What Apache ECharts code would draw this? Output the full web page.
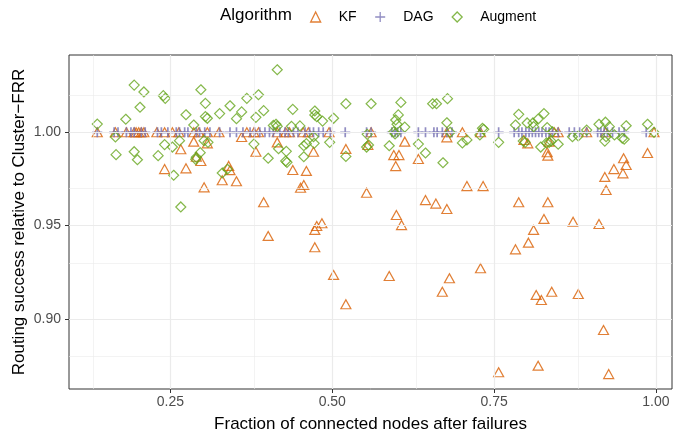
<!DOCTYPE html>
<html>
<head>
<meta charset="utf-8">
<title>Routing success relative to Cluster-FRR</title>
<script src="https://cdn.jsdelivr.net/npm/echarts@6/dist/echarts.min.js"></script>
<style>
  html, body { margin: 0; padding: 0; background: #ffffff; }
  #chart { width: 689px; height: 432px; }
</style>
</head>
<body>
<div id="chart"></div>
<script>
// fraction of connected nodes, routing success ratio
var kfPoints = [
  [0.137, 1.0], [0.165, 1.0], [0.182, 1.0], [0.194, 1.0], [0.197, 1.0], [0.201, 1.0],
  [0.205, 1.0], [0.209, 1.0], [0.229, 1.0], [0.241, 1.0], [0.253, 1.0], [0.263, 1.0],
  [0.286, 1.0], [0.294, 1.0], [0.307, 1.0], [0.325, 1.0], [0.368, 1.0], [0.379, 1.0],
  [0.386, 1.0], [0.415, 1.0], [0.428, 1.0], [0.434, 1.0], [0.455, 1.0], [0.463, 1.0],
  [0.495, 1.0], [0.560, 1.0], [0.677, 1.0], [0.701, 1.0], [0.729, 1.0], [0.843, 1.0],
  [0.849, 1.0], [0.893, 1.0], [0.922, 1.0], [0.997, 1.0],
  [0.266, 0.9909], [0.241, 0.9803], [0.274, 0.9807], [0.286, 0.995], [0.307, 0.9941],
  [0.290, 0.9869], [0.297, 0.9846], [0.340, 0.9820], [0.342, 0.9797], [0.330, 0.9743],
  [0.352, 0.9738], [0.302, 0.9705], [0.360, 0.9975], [0.382, 0.9896], [0.415, 0.9946],
  [0.439, 0.9798], [0.460, 0.9793], [0.451, 0.9703], [0.456, 0.9718], [0.394, 0.9625],
  [0.471, 0.9896], [0.521, 0.9911], [0.555, 0.9932], [0.595, 0.9878], [0.603, 0.9878],
  [0.598, 0.9819], [0.612, 0.995], [0.633, 0.9857], [0.553, 0.9676], [0.644, 0.9637],
  [0.677, 0.9973], [0.708, 0.9712], [0.733, 0.9712], [0.796, 0.9959], [0.802, 0.9941],
  [0.832, 0.9893], [0.833, 0.9875], [0.788, 0.9625], [0.833, 0.9625], [0.660, 0.9618],
  [0.835, 0.995], [0.987, 0.9889], [0.950, 0.9861], [0.954, 0.9825], [0.949, 0.978],
  [0.935, 0.9803], [0.921, 0.9761], [0.923, 0.9691], [0.401, 0.9445], [0.484, 0.9513],
  [0.476, 0.9498], [0.473, 0.9477], [0.473, 0.9384], [0.502, 0.9236], [0.677, 0.9589],
  [0.599, 0.9557], [0.607, 0.9503], [0.827, 0.9536], [0.872, 0.9521], [0.912, 0.9509],
  [0.811, 0.9477], [0.803, 0.9409], [0.783, 0.9373], [0.729, 0.9272], [0.588, 0.923],
  [0.681, 0.9218], [0.670, 0.9146], [0.521, 0.9079], [0.815, 0.9129], [0.823, 0.9102],
  [0.839, 0.9146], [0.880, 0.9134], [0.919, 0.8941], [0.757, 0.8715], [0.818, 0.875],
  [0.927, 0.8705]
]

// DAG always matches Cluster-FRR
var dagFractions = [
  0.137, 0.163, 0.169, 0.182, 0.189, 0.194, 0.205, 0.211, 0.230, 0.236, 0.246, 0.259,
  0.264, 0.272, 0.277, 0.290, 0.295, 0.303, 0.311, 0.326, 0.342, 0.352, 0.362, 0.373,
  0.380, 0.388, 0.396, 0.403, 0.409, 0.419, 0.427, 0.432, 0.440, 0.447, 0.458, 0.465,
  0.471, 0.479, 0.486, 0.497, 0.520, 0.553, 0.560, 0.592, 0.597, 0.601, 0.606, 0.633,
  0.644, 0.657, 0.662, 0.670, 0.677, 0.685, 0.729, 0.757, 0.781, 0.788, 0.793, 0.799,
  0.804, 0.809, 0.814, 0.819, 0.824, 0.830, 0.835, 0.840, 0.849, 0.866, 0.874, 0.882,
  0.893, 0.910, 0.915, 0.920, 0.925, 0.933, 0.943, 0.951, 0.985
]
var dagSuccess = 1.0

var augmentPoints = [
  [0.137, 1.0044], [0.194, 1.0253], [0.209, 1.0216], [0.203, 1.0134], [0.181, 1.007],
  [0.165, 0.9975], [0.166, 0.988], [0.194, 0.9896], [0.199, 0.9853], [0.239, 1.0196],
  [0.242, 1.0182], [0.274, 1.0094], [0.241, 0.9934], [0.253, 0.9921], [0.264, 0.9955],
  [0.231, 0.9875], [0.255, 0.977], [0.266, 0.960],
  [0.415, 1.0335], [0.297, 1.0228], [0.304, 1.0155], [0.304, 1.0084], [0.307, 1.0075],
  [0.326, 1.01], [0.342, 1.0142], [0.368, 1.0182], [0.386, 1.0201], [0.360, 1.0109],
  [0.352, 1.0073], [0.394, 1.0116], [0.382, 1.008], [0.286, 1.0039], [0.439, 1.0123],
  [0.409, 1.0037], [0.413, 1.0043], [0.415, 1.0032], [0.437, 1.0032], [0.450, 1.0034],
  [0.302, 0.9955], [0.308, 0.9946], [0.296, 0.9891], [0.290, 0.9866], [0.289, 0.9855],
  [0.330, 0.9782], [0.338, 0.9802], [0.379, 0.9937], [0.401, 0.9861], [0.417, 0.9912],
  [0.429, 0.9898], [0.428, 0.9846], [0.430, 0.9839], [0.456, 0.9928], [0.460, 0.9939],
  [0.456, 0.9869],
  [0.473, 1.0114], [0.476, 1.0084], [0.473, 1.0093], [0.485, 1.006], [0.502, 1.0075],
  [0.521, 1.0153], [0.560, 1.0153], [0.606, 1.016], [0.602, 1.0093], [0.598, 1.0066],
  [0.600, 1.0043], [0.612, 1.0028], [0.595, 1.0003], [0.597, 0.9991], [0.655, 1.0153],
  [0.471, 0.9976], [0.472, 0.9941], [0.496, 0.9946], [0.521, 0.9871], [0.554, 0.9989],
  [0.556, 0.9932], [0.553, 0.9921], [0.588, 0.9928], [0.633, 0.9937], [0.644, 0.9889],
  [0.661, 1.0153], [0.678, 1.018], [0.677, 1.0051], [0.682, 1.0], [0.701, 0.9943],
  [0.708, 0.9959], [0.671, 0.9837], [0.728, 0.9986], [0.732, 1.0021], [0.734, 1.0016],
  [0.757, 0.9946], [0.788, 1.0096], [0.783, 1.0039], [0.801, 1.005], [0.810, 1.005],
  [0.811, 1.003], [0.818, 1.0071], [0.827, 1.01], [0.832, 1.0025], [0.840, 1.0003],
  [0.795, 0.9953], [0.798, 0.9946], [0.822, 0.9921], [0.831, 0.9943], [0.835, 0.9946],
  [0.838, 0.9953],
  [0.849, 0.9936], [0.871, 0.9976], [0.880, 0.998], [0.893, 1.0012], [0.912, 1.0043],
  [0.922, 1.0054], [0.928, 1.003], [0.921, 0.9953], [0.923, 0.9976], [0.936, 0.9986],
  [0.948, 0.9968], [0.951, 0.9963], [0.954, 1.0035], [0.987, 1.0043], [0.997, 1.0]
]

// axis breaks (ggplot style major / minor)
var xMajor = [0.25, 0.50, 0.75, 1.00]
var xMinor = [0.125, 0.375, 0.625, 0.875]
var yMajor = [0.90, 0.95, 1.00]
var yMinor = [0.875, 0.925, 0.975, 1.025]

var FONT = '"Liberation Sans", Arial, Helvetica, sans-serif'
var colors = { kf: '#D95F02', dag: '#7570B3', augment: '#66A61E' }

var chart = echarts.init(document.getElementById('chart'), null, { renderer: 'canvas' })

function gridLines(values, axis, width) {
  return values.map(function(v) {
    var d = {}
    d[axis] = v
    d.lineStyle = { width: width }
    return d
  })
}

chart.setOption({
  animation: false,
  backgroundColor: '#ffffff',
  textStyle: { fontFamily: FONT },
  title: {
    text: 'Algorithm',
    left: 220,
    top: 7,
    padding: 0,
    textStyle: { fontFamily: FONT, fontSize: 17, fontWeight: 'normal', color: '#000000' }
  },
  legend: {
    data: ['KF', 'DAG', 'Augment'],
    left: 310,
    top: 10,
    padding: 0,
    itemWidth: 10,
    itemHeight: 10,
    itemGap: 18,
    selectedMode: false,
    // spacer so the label sits where ggplot puts it
    formatter: function(name) { return '{gap| }' + name },
    textStyle: {
      fontFamily: FONT,
      fontSize: 14,
      color: '#000000',
      rich: { gap: { width: 13 } }
    },
    itemStyle: { borderWidth: 1.3 }
  },
  grid: {
    left: 69,
    right: 17,
    top: 55,
    bottom: 43,
    outerBoundsMode: 'none',
    show: true,
    backgroundColor: '#ffffff',
    borderColor: '#333333',
    borderWidth: 1
  },
  xAxis: {
    type: 'value',
    min: 0.0933,
    max: 1.0248,
    name: 'Fraction of connected nodes after failures',
    nameLocation: 'middle',
    nameGap: 27,
    nameTextStyle: { fontFamily: FONT, fontSize: 17, color: '#000000' },
    axisLine: { show: false },
    splitLine: { show: false },
    axisTick: {
      show: true,
      length: 4,
      customValues: xMajor,
      lineStyle: { color: '#333333', width: 1 }
    },
    axisLabel: {
      customValues: xMajor,
      margin: 6,
      fontFamily: FONT,
      fontSize: 14,
      color: '#4D4D4D',
      formatter: function(v) { return v.toFixed(2) }
    }
  },
  yAxis: {
    type: 'value',
    min: 0.8625,
    max: 1.0414,
    name: 'Routing success relative to Cluster\u2212FRR',
    nameLocation: 'middle',
    nameRotate: 90,
    nameGap: 41,
    nameMoveOverlap: false,
    nameTextStyle: { fontFamily: FONT, fontSize: 17, color: '#000000' },
    axisLine: { show: false },
    splitLine: { show: false },
    axisTick: {
      show: true,
      length: 4,
      customValues: yMajor,
      lineStyle: { color: '#333333', width: 1 }
    },
    axisLabel: {
      customValues: yMajor,
      margin: 8,
      fontFamily: FONT,
      fontSize: 14,
      color: '#4D4D4D',
      formatter: function(v) { return v.toFixed(2) }
    }
  },
  series: [
    {
      // panel grid lines, drawn under the points
      name: 'grid',
      type: 'scatter',
      data: [],
      z: 1,
      silent: true,
      markLine: {
        silent: true,
        symbol: ['none', 'none'],
        label: { show: false },
        lineStyle: { color: '#EBEBEB', type: 'solid' },
        data: []
          .concat(gridLines(xMinor, 'xAxis', 0.6))
          .concat(gridLines(yMinor, 'yAxis', 0.6))
          .concat(gridLines(xMajor, 'xAxis', 1.2))
          .concat(gridLines(yMajor, 'yAxis', 1.2))
      }
    },
    {
      name: 'KF',
      type: 'scatter',
      z: 2,
      symbol: 'triangle',
      symbolSize: [10, 9],
      itemStyle: { color: 'rgba(0,0,0,0)', borderColor: colors.kf, borderWidth: 1.2 },
      data: kfPoints
    },
    {
      name: 'DAG',
      type: 'scatter',
      z: 3,
      symbol: 'path://M0,5L10,5M5,0L5,10',
      symbolSize: 10,
      itemStyle: { color: 'rgba(0,0,0,0)', borderColor: colors.dag, borderWidth: 1.7 },
      data: dagFractions.map(function(x) { return [x, dagSuccess] })
    },
    {
      name: 'Augment',
      type: 'scatter',
      z: 4,
      symbol: 'diamond',
      symbolSize: 10,
      itemStyle: { color: 'rgba(0,0,0,0)', borderColor: colors.augment, borderWidth: 1.2 },
      data: augmentPoints
    }
  ]
})
</script>
</body>
</html>
